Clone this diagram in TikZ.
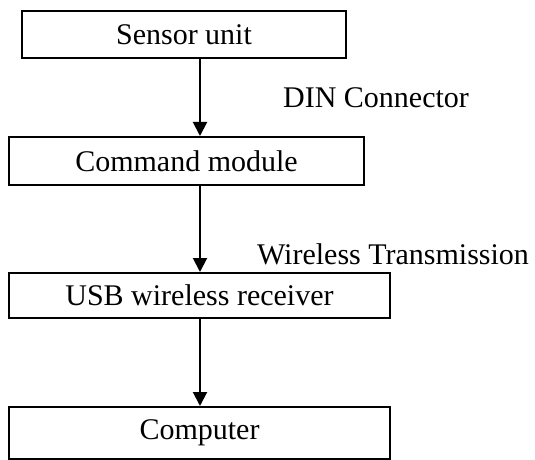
\documentclass[tikz,border=0pt]{standalone}
\usepackage{fontspec}
\setmainfont{Liberation Serif}
\usetikzlibrary{arrows.meta}
\tikzset{
  unitbox/.style={draw, line width=1pt, inner sep=0pt},
  flow/.style={line width=1pt, -{Triangle[width=7pt,length=7pt]}}
}
\begin{document}
\begin{tikzpicture}[x=0.5pt,y=-0.5pt]
        \useasboundingbox (0,0) rectangle (535,460);
        \fontsize{15}{18}\selectfont
        \coordinate (axis) at (200,0);
        \node[unitbox, minimum width=162pt, minimum height=23.5pt] (sensor) at (184,34.5) {Sensor unit};
        \node[unitbox, minimum width=177.5pt, minimum height=24pt] (command) at (186.5,161) {Command module};
        \node[unitbox, minimum width=190.5pt, minimum height=22.5pt] (receiver) at (199.5,295.5) {USB wireless receiver};
        \node[unitbox, minimum width=190.5pt, minimum height=26pt] (computer) at (199.5,433) {Computer};
        \node (din) at (376,98) {DIN Connector};
        \node (wireless) at (393,254) {Wireless Transmission};
        \draw[flow] (sensor.south -| axis) -- (command.north -| axis);
        \draw[flow] (command.south -| axis) -- (receiver.north -| axis);
        \draw[flow] (receiver.south -| axis) -- (computer.north -| axis);
    \end{tikzpicture}
\end{document}
